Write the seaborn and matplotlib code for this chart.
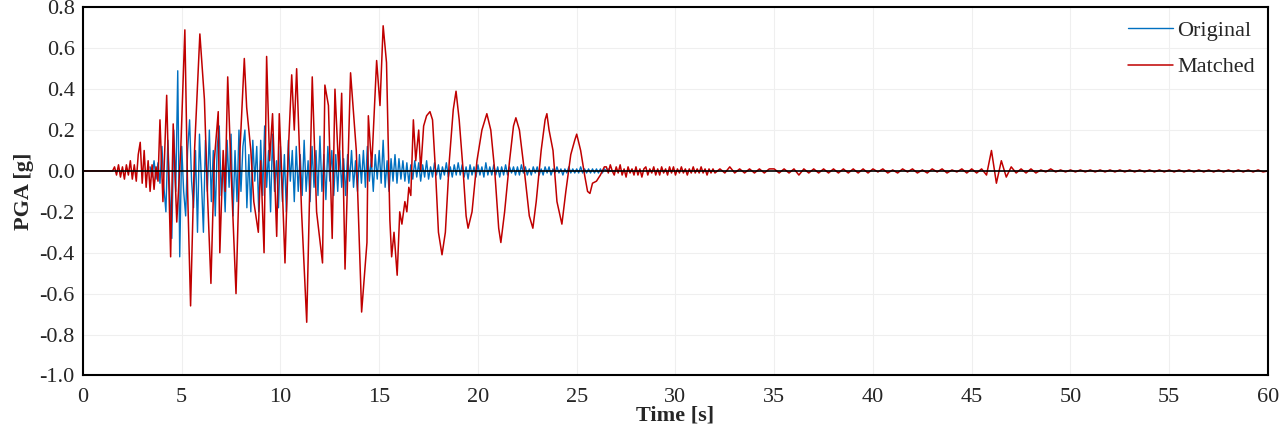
import numpy as np
import pandas as pd
import seaborn as sns
import matplotlib.pyplot as plt

# original record, sampled every 0.1 s from 3.4 s to 27.0 s
orig_start = 3.4
orig_vals = [
    0.02, -0.03, 0.05, -0.04, 0.04, -0.06,
    0.12, -0.08, -0.2, 0.15, -0.12, -0.33, 0.2, -0.1, 0.49, -0.42,
    0.12, -0.1, -0.22, 0.1, 0.25, -0.05, -0.18, 0.1, -0.3, 0.18,
    -0.05, -0.3, 0.15, -0.1, 0.2, -0.15, 0.1, -0.22, 0.12, 0.22,
    -0.12, 0.05, -0.2, 0.15, -0.08, 0.18, -0.22, 0.1, -0.15, 0.2,
    -0.1, 0.12, 0.2, -0.18, 0.08, -0.2, 0.15, -0.05, 0.12, -0.2,
    0.15, -0.12, 0.22, -0.08, 0.1, -0.2, 0.18, -0.1, 0.05, -0.18,
    0.12, -0.15, 0.08, -0.2, 0.15, -0.05, 0.1, -0.15, 0.12, -0.1,
    0.08, -0.12, 0.15, -0.1, 0.05, -0.15, 0.12, -0.08, 0.1, -0.12,
    0.17, -0.1, 0.08, -0.14, 0.12, -0.05, 0.1, -0.12, 0.08, -0.1,
    0.1, -0.08, 0.06, -0.12, 0.08, -0.05, 0.1, -0.08, 0.05, -0.1,
    0.08, -0.06, 0.1, -0.08, 0.12, -0.05, 0.06, -0.1, 0.08, -0.04,
    0.1, -0.06, 0.15, -0.08, 0.05, -0.1, 0.06, -0.05, 0.08, -0.06,
    0.06, -0.04, 0.05, -0.05, 0.04, -0.06, 0.03, -0.04, 0.05, -0.03,
    0.04, -0.05, 0.03, -0.03, 0.05, -0.04, 0.02, -0.03, 0.04, -0.02,
    0.03, -0.04, 0.02, -0.02, 0.04, -0.03, 0.02, -0.03, 0.03, -0.02,
    0.04, -0.02, 0.03, -0.03, 0.02, -0.04, 0.03, -0.02, 0.02, -0.03,
    0.03, -0.02, 0.02, -0.03, 0.04, -0.02, 0.02, -0.02, 0.03, -0.02,
    0.02, -0.03, 0.02, -0.02, 0.03, -0.02, 0.02, -0.01, 0.02, -0.02,
    0.02, -0.02, 0.03, -0.01, 0.02, -0.02, 0.01, -0.02, 0.02, -0.01,
    0.02, -0.02, 0.01, -0.02, 0.02, -0.01, 0.02, -0.02, 0.01, -0.01,
    0.02, -0.01, 0.01, -0.02, 0.01, -0.01, 0.02, -0.01, 0.01, -0.01,
    0.01, -0.01, 0.02, -0.01, 0.01, -0.01, 0.01, -0.01, 0.01, -0.01,
    0.01, -0.01, 0.01, -0.01, 0.01, 0.0, 0.01, 0.0, 0.0, 0.0,
]

# matched record: quiet start, strong part (read peak by peak), tail
match_pre_t = [0.0, 1.5, 1.6, 1.7, 1.8, 1.9, 2.0, 2.1, 2.2, 2.3, 2.4, 2.5,
               2.6, 2.7, 2.8, 2.9, 3.0, 3.1, 3.2, 3.3, 3.4, 3.5, 3.6, 3.7, 3.8]
match_pre_v = [0.0, 0.0, 0.02, -0.02, 0.03, -0.03, 0.02, -0.04, 0.03, -0.02, 0.05, -0.04,
               0.03, -0.05, 0.08, 0.14, -0.06, 0.1, -0.08, 0.05, -0.1, 0.03, -0.09, 0.02, -0.05]

match_main_t = [3.9, 4.05, 4.24, 4.44, 4.57, 4.75, 4.95, 5.16, 5.3, 5.45, 5.65, 5.92,
                6.15, 6.3, 6.48, 6.65, 6.85, 6.93, 7.1, 7.2, 7.33, 7.5, 7.75, 7.95,
                8.17, 8.29, 8.5, 8.65, 8.88, 9.0, 9.17, 9.3, 9.45, 9.6, 9.81, 9.94,
                10.1, 10.23, 10.4, 10.57, 10.7, 10.82, 11.07, 11.33, 11.61, 11.83, 12.13, 12.25,
                12.43, 12.62, 12.76, 12.95, 13.1, 13.27, 13.55, 13.84, 14.11, 14.38, 14.45, 14.62,
                14.87, 15.04, 15.2, 15.37, 15.54, 15.63, 15.75, 15.91, 16.04, 16.15, 16.3, 16.4,
                16.5, 16.6, 16.73, 16.85, 17.0, 17.1, 17.25, 17.4, 17.57, 17.7, 17.85, 18.0,
                18.18, 18.35, 18.55, 18.75, 18.89, 19.05, 19.25, 19.4, 19.5, 19.7, 19.95, 20.2,
                20.45, 20.65, 20.85, 21.05, 21.16, 21.35, 21.6, 21.8, 21.92, 22.1, 22.35, 22.6,
                22.78, 22.95, 23.2, 23.4, 23.49, 23.6, 23.8, 24.0, 24.25, 24.45, 24.7, 24.9,
                25.0, 25.2, 25.4, 25.55, 25.67, 25.8, 26.0, 26.2, 26.4]
match_main_v = [0.25, -0.15, 0.37, -0.42, 0.23, -0.25, 0.1, 0.69, -0.1, -0.66, 0.1, 0.67,
                0.35, -0.1, -0.55, 0.05, 0.29, -0.4, 0.1, -0.1, 0.46, 0.0, -0.6, 0.1,
                0.55, 0.31, 0.1, -0.15, -0.3, 0.05, -0.4, 0.56, 0.05, 0.28, -0.32, 0.28,
                -0.1, -0.45, 0.1, 0.47, 0.2, 0.5, -0.2, -0.74, 0.46, -0.2, -0.45, 0.42,
                0.32, -0.33, 0.4, 0.0, 0.38, -0.48, 0.48, 0.1, -0.69, -0.35, 0.27, 0.02,
                0.54, 0.32, 0.71, 0.53, -0.24, -0.42, -0.3, -0.51, -0.2, -0.26, -0.15, -0.2,
                -0.08, -0.12, 0.25, 0.05, 0.2, 0.0, 0.22, 0.27, 0.29, 0.25, 0.0, -0.3,
                -0.41, -0.3, 0.05, 0.3, 0.39, 0.25, 0.0, -0.22, -0.28, -0.2, 0.05, 0.2,
                0.28, 0.2, 0.0, -0.28, -0.35, -0.2, 0.05, 0.22, 0.26, 0.2, 0.0, -0.22,
                -0.28, -0.15, 0.1, 0.25, 0.28, 0.2, 0.1, -0.15, -0.26, -0.1, 0.08, 0.15,
                0.18, 0.1, -0.02, -0.1, -0.11, -0.06, -0.05, -0.02, 0.02]

# tail, first part every 0.1 s (26.5 s to 32.0 s)
match_tail1_start = 26.5
match_tail1_v = [
    0.02, -0.01, 0.03, 0.0, -0.02, 0.02, -0.01, 0.03, -0.02, 0.01,
    -0.03, 0.02, -0.01, 0.01, -0.02, 0.02, -0.02, 0.01, -0.03, 0.01,
    0.02, -0.02, 0.01, -0.01, 0.02, -0.02, 0.01, -0.02, 0.02, -0.01,
    0.01, -0.02, 0.02, -0.01, 0.02, -0.02, 0.01, -0.01, 0.02, -0.01,
    0.01, -0.02, 0.01, -0.01, 0.02, -0.01, 0.01, -0.01, 0.02, -0.01,
    0.01, -0.02, 0.01, -0.01, 0.01,
]
# tail, second part every 0.25 s (32.0 s to 60.0 s)
match_tail2_start = 32.0
match_tail2_v = [
    -0.01, 0.01, -0.01, 0.02, -0.01, 0.01, -0.01, 0.01, -0.01, 0.01, -0.01, 0.01,
    0.01, -0.01, 0.01, -0.01, 0.01, -0.02, 0.01, -0.01, 0.01, -0.01,
    0.01, -0.01, 0.01, -0.01, 0.01, -0.01, 0.01, -0.01, 0.01, -0.01,
    0.01, -0.005, 0.01, -0.01, 0.005, -0.01, 0.01, -0.005, 0.01, -0.01,
    0.005, -0.01, 0.01, -0.005, 0.01, -0.01, 0.005, -0.005, 0.01, -0.01,
    0.01, -0.01, 0.01, -0.02,
    0.1, -0.06, 0.05, -0.03,
    0.02, -0.01, 0.01, -0.01, 0.01, -0.01, 0.005, -0.005, 0.01, -0.005, 0.005, -0.005,
    0.005, -0.005, 0.005, -0.005, 0.005, -0.005, 0.005, -0.005, 0.005, -0.005,
    0.005, -0.005, 0.005, -0.005, 0.005, -0.005, 0.005, -0.005, 0.005, -0.005,
    0.005, -0.005, 0.005, -0.005, 0.005, -0.005, 0.005, -0.005, 0.005, -0.005,
    0.005, -0.005, 0.005, -0.005, 0.005, -0.005, 0.005, -0.005, 0.005, -0.005,
    0.0,
]

orig_t = orig_start + 0.1 * np.arange(len(orig_vals))
tail1_t = match_tail1_start + 0.1 * np.arange(len(match_tail1_v))
tail2_t = match_tail2_start + 0.25 * np.arange(len(match_tail2_v))

df_orig = pd.DataFrame({'t': orig_t, 'a': orig_vals})
df_match = pd.DataFrame({
    't': np.concatenate([match_pre_t, match_main_t, tail1_t, tail2_t]),
    'a': np.concatenate([match_pre_v, match_main_v, match_tail1_v, match_tail2_v]),
})

sns.set_style('white')
plt.rcParams['font.family'] = ['Liberation Serif', 'DejaVu Serif']

fig = plt.figure(figsize=(12.8, 4.34), dpi=100)
ax = fig.add_axes([0.0648, 0.135, 0.9258, 0.848])

sns.lineplot(data=df_orig, x='t', y='a', ax=ax, color='#0070C0', lw=1.0,
             sort=False, estimator=None, label='Original')
sns.lineplot(data=df_match, x='t', y='a', ax=ax, color='#C00000', lw=1.1,
             sort=False, estimator=None, label='Matched')
ax.axhline(0, color='black', lw=1.2, zorder=5)

yt = np.round(np.arange(-1.0, 0.81, 0.2), 1) + 0.0
ax.set_xlim(0, 60)
ax.set_ylim(-1.0, 0.8)
ax.set_xticks(np.arange(0, 61, 5))
ax.set_yticks(yt)
ax.set_yticklabels([f'{v:.1f}'.replace('-0.0', '0.0') for v in yt])
ax.grid(True, color='#efefef', lw=0.8)
ax.tick_params(axis='both', labelsize=16, length=0)
ax.tick_params(axis='x', pad=9)
ax.tick_params(axis='y', pad=6)
for s in ax.spines.values():
    s.set_color('black')
    s.set_linewidth(1.5)

ax.set_xlabel('Time [s]', fontsize=16, fontweight='bold', labelpad=-1)
ax.set_ylabel('PGA [g]', fontsize=16, fontweight='bold', labelpad=4)

ax.legend(loc='upper right', frameon=False, fontsize=16, handlelength=2.0,
          handletextpad=0.2, labelspacing=0.7, borderaxespad=0.2)

fig.savefig('out.png', dpi=100)
